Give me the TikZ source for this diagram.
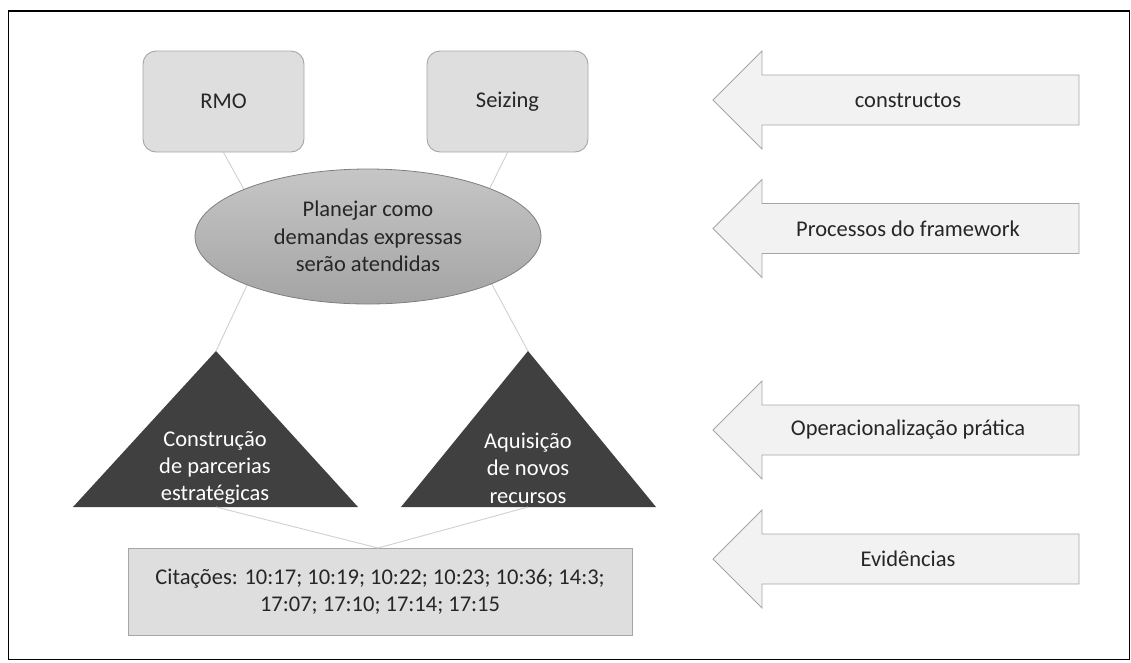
\documentclass[tikz,border=0pt]{standalone}
\usepackage{fontspec}
\setmainfont{Carlito}
\usetikzlibrary{shapes.geometric,backgrounds}

\definecolor{boxfill}{HTML}{DEDEDE}
\definecolor{boxline}{HTML}{A6A6A6}
\definecolor{ellTop}{HTML}{C6C6C6}
\definecolor{ellBot}{HTML}{A4A4A4}
\definecolor{ellLine}{HTML}{7F7F7F}
\definecolor{triFill}{HTML}{404040}
\definecolor{bandFill}{HTML}{F2F2F2}
\definecolor{linkGray}{HTML}{D0D0D0}
\definecolor{ink}{HTML}{262626}

\begin{document}
\begin{tikzpicture}[x=1pt,y=-1pt,
  every node/.style={font=\fontsize{22.5}{27.4}\selectfont, text=ink, inner sep=0pt, align=center},
  concept/.style={draw=boxline, fill=boxfill, rounded corners=13pt,
    minimum width=161pt, minimum height=101pt, line width=0.9pt},
  process/.style={ellipse, draw=ellLine, top color=ellTop, bottom color=ellBot,
    minimum width=346pt, minimum height=135pt, line width=0.8pt},
  evidence/.style={draw=boxline, fill=boxfill, minimum width=504pt,
    minimum height=87pt, line width=0.9pt},
  tri/.style={fill=triFill},
  tritext/.style={text=white},
  band/.style={draw=boxline, fill=bandFill, line width=0.9pt},
  link/.style={draw=linkGray, line width=0.9pt},
  frame/.style={draw=black, line width=1.5pt}
]
\useasboundingbox (0,0) rectangle (1131,662);

% outer frame
\draw[frame] (8.5,11) rectangle (1129.5,659.5);

% constructs
\node[concept] (rmo) at (223.5,101.5) {RMO};
\node[concept] (seiz) at (507.5,101.5) {Seizing};

% framework process
\node[process] (plan) at (368,236.5) {Planejar como\\demandas expressas\\serão atendidas};

% practical operationalisation (triangles)
\coordinate (triLtop) at (216,351);
\coordinate (triLbase) at (216,507);
\coordinate (triRtop) at (528,351);
\coordinate (triRbase) at (528,507);
\fill[tri] (triLtop) -- (358,507) -- (73,507) -- cycle;
\fill[tri] (triRtop) -- (656,507) -- (401,507) -- cycle;
\node[tritext] (triLtext) at (215,468) {Construção\\de parcerias\\estratégicas};
\node[tritext] (triRtext) at (528,468) {Aquisição\\de novos\\recursos};

% evidence
\node[evidence] (cites) at (380,591.5) {Citações: 10:17; 10:19; 10:22; 10:23; 10:36; 14:3;\\17:07; 17:10; 17:14; 17:15};
\coordinate (citesTop) at (378,548);

% hidden joints inside the ellipse
\coordinate (jL) at (270,236.5);
\coordinate (jR) at (466,236.5);

\begin{scope}[on background layer]
  \draw[link] (rmo.south) -- (jL) -- (triLtop);
  \draw[link] (seiz.south) -- (jR) -- (triRtop);
\end{scope}
\draw[link] (triLbase) -- (citesTop) -- (triRbase);

% level labels (left-pointing block arrows)
\foreach \c/\nm/\txt in {100/bandA/constructos,
                         228.5/bandB/Processos do framework,
                         430/bandC/Operacionalização prática,
                         559/bandD/Evidências}{
  \draw[band] (713,\c) -- (762,\c-49) -- (762,\c-25) -- (1079,\c-25)
              -- (1079,\c+25) -- (762,\c+25) -- (762,\c+49) -- cycle;
  \node (\nm) at (908,\c) {\txt};
}
\end{tikzpicture}
\end{document}
